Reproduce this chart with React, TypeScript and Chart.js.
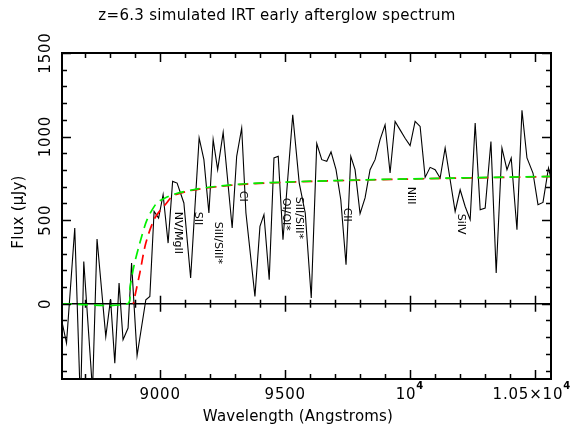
import React, { useEffect, useRef } from "react";
import { Chart, registerables } from "chart.js";

Chart.register(...registerables);

const TITLE = "z=6.3 simulated IRT early afterglow spectrum";
const X_LABEL = "Wavelength (Angstroms)";
const Y_LABEL = "Flux (μJy)";

const X_MIN = 8608;
const X_MAX = 10562;
const Y_MIN = -450;
const Y_MAX = 1500;

// Observed (simulated) spectrum
const waveObs = [
  8609, 8626, 8659, 8682, 8695, 8730, 8748, 8783, 8802, 8819, 8836, 8852, 8872, 8886, 8908,
  8943, 8959, 8976, 8994, 9012, 9032, 9050, 9068, 9095, 9122, 9156, 9175, 9195, 9212, 9230,
  9252, 9288, 9306, 9326, 9343, 9379, 9399, 9415, 9436, 9455, 9472, 9491, 9530, 9556, 9580,
  9604, 9626, 9646, 9666, 9683, 9703, 9722, 9743, 9762, 9779, 9799, 9819, 9839, 9859, 9879,
  9899, 9919, 9939, 9959, 9979, 9999, 10019, 10039, 10059, 10079, 10099, 10119, 10139, 10159,
  10179, 10199, 10219, 10239, 10259, 10279, 10299, 10322, 10343, 10366, 10386, 10403, 10426,
  10446, 10466, 10490, 10510, 10530, 10552, 10570,
];
const fluxObs = [
  -116, -235, 453, -620, 253, -520, 387, -196, 28, -355, 124, -215, -145, 243, -310,
  24, 44, 553, 513, 652, 363, 732, 722, 603, 154, 992, 862, 543, 982, 802,
  1025, 453, 882, 1051, 543, 44, 463, 533, 144, 872, 882, 383, 1131, 722, 543,
  35, 958, 862, 852, 908, 802, 622, 233, 882, 802, 539, 633, 802, 862, 982,
  1071, 782, 1091, 1040, 990, 946, 1091, 1061, 756, 816, 802, 752, 932, 742,
  552, 682, 582, 503, 1081, 563, 573, 971, 184, 932, 802, 872, 443,
  1157, 872, 782, 593, 606, 812, 700,
];

// Model curves (green and red dashed)
const waveGreen = [8608, 8870, 8880, 8895, 8919, 8948, 8986, 9006, 9050, 9132, 9226, 9346, 9506, 9626, 9959, 10562];
const fluxGreen = [0, 0, 100, 223, 363, 503, 603, 622, 652, 682, 702, 718, 728, 734, 746, 762];
const waveRed = [8893, 8899, 8919, 8943, 8979, 9026, 9052, 9132, 9226, 9346, 9506, 9626, 9959, 10562];
const fluxRed = [0, 44, 184, 363, 513, 603, 646, 680, 700, 716, 727, 733, 745, 761];

// Absorption line labels: name, wavelength, flux at top of label
const lineNames = ["NV/MgII", "SII", "SiII/SiII*", "CI", "OI/OI*", "SiII/SiII*", "CII", "NiII", "SiIV"];
const lineWaves = [9069, 9149, 9229, 9331, 9503, 9555, 9745, 10003, 10203];
const lineTopFlux = [551, 551, 491, 676, 634, 640, 575, 700, 539];

const xMajorTicks = [9000, 9500, 10000, 10500];
const xTickBase = ["9000", "9500", "10", "1.05×10"];
const xTickExp = ["", "", "4", "4"];
const yMajorTicks = [0, 500, 1000, 1500];
const yTickLabels = ["0", "500", "1000", "1500"];

const FONT = "'DejaVu Sans', sans-serif";

const framePlugin = {
  id: "pgframe",
  beforeDatasetsDraw(chart: any) {
    const { ctx, chartArea: a, scales } = chart;
    const x = scales.x;
    const y = scales.y;
    const y0 = y.getPixelForValue(0);
    ctx.save();
    ctx.strokeStyle = "#000";
    ctx.lineWidth = 1.5;
    ctx.beginPath();
    ctx.moveTo(a.left, y0);
    ctx.lineTo(a.right, y0);
    for (let v = Math.ceil(X_MIN / 100) * 100; v <= X_MAX; v += 100) {
      const px = Math.round(x.getPixelForValue(v)) + 0.5;
      const len = v % 500 === 0 ? 8 : 4;
      ctx.moveTo(px, y0 - len);
      ctx.lineTo(px, y0 + len);
    }
    ctx.stroke();
    ctx.restore();
  },
  afterDatasetsDraw(chart: any) {
    const { ctx, chartArea: a, scales } = chart;
    const x = scales.x;
    const y = scales.y;
    ctx.save();
    ctx.strokeStyle = "#000";
    ctx.lineWidth = 1.5;
    ctx.beginPath();
    for (let v = Math.ceil(X_MIN / 100) * 100; v <= X_MAX; v += 100) {
      const px = Math.round(x.getPixelForValue(v)) + 0.5;
      const len = v % 500 === 0 ? 9 : 5;
      ctx.moveTo(px, a.bottom);
      ctx.lineTo(px, a.bottom - len);
      ctx.moveTo(px, a.top);
      ctx.lineTo(px, a.top + len);
    }
    for (let v = Math.ceil(Y_MIN / 100) * 100; v <= Y_MAX; v += 100) {
      const py = Math.round(y.getPixelForValue(v)) + 0.5;
      const len = v % 500 === 0 ? 9 : 5;
      ctx.moveTo(a.left, py);
      ctx.lineTo(a.left + len, py);
      ctx.moveTo(a.right, py);
      ctx.lineTo(a.right - len, py);
    }
    ctx.stroke();
    ctx.lineWidth = 2;
    ctx.strokeRect(a.left, a.top, a.right - a.left, a.bottom - a.top);

    ctx.fillStyle = "#000";
    // title
    ctx.font = `15px ${FONT}`;
    ctx.letterSpacing = "0.3px";
    ctx.textAlign = "center";
    ctx.textBaseline = "alphabetic";
    ctx.fillText(TITLE, 277, 20);
    // x label
    ctx.letterSpacing = "0.2px";
    ctx.fillText(X_LABEL, 298, 421);
    // x tick labels
    ctx.letterSpacing = "0.8px";
    xMajorTicks.forEach((v, i) => {
      const cx = x.getPixelForValue(v);
      ctx.font = `15px ${FONT}`;
      const wBase = ctx.measureText(xTickBase[i]).width;
      ctx.font = `bold 10px ${FONT}`;
      const wExp = xTickExp[i] ? ctx.measureText(xTickExp[i]).width + 1 : 0;
      let left = cx - (wBase + wExp) / 2;
      if (left + wBase + wExp > 572) left = 572 - wBase - wExp;
      ctx.textAlign = "left";
      ctx.font = `15px ${FONT}`;
      ctx.fillText(xTickBase[i], left, 399);
      if (xTickExp[i]) {
        ctx.font = `bold 10px ${FONT}`;
        ctx.fillText(xTickExp[i], left + wBase, 389);
      }
    });
    // y tick labels (rotated)
    ctx.font = `15px ${FONT}`;
    ctx.textAlign = "center";
    ctx.textBaseline = "middle";
    yMajorTicks.forEach((v, i) => {
      const py = y.getPixelForValue(v);
      ctx.save();
      ctx.translate(46, py);
      ctx.rotate(-Math.PI / 2);
      ctx.fillText(yTickLabels[i], 0, 0);
      ctx.restore();
    });
    // y label
    ctx.letterSpacing = "0.3px";
    ctx.save();
    ctx.translate(19, 212);
    ctx.rotate(-Math.PI / 2);
    ctx.fillText(Y_LABEL, 0, 0);
    ctx.restore();
    // line labels
    ctx.letterSpacing = "0px";
    ctx.font = `11px ${FONT}`;
    ctx.textAlign = "left";
    ctx.textBaseline = "middle";
    lineNames.forEach((name, i) => {
      const px = x.getPixelForValue(lineWaves[i]);
      const py = y.getPixelForValue(lineTopFlux[i]);
      ctx.save();
      ctx.translate(px, py);
      ctx.rotate(Math.PI / 2);
      ctx.fillText(name, 0, 0);
      ctx.restore();
    });
    ctx.restore();
  },
};

export default function App() {
  const canvasRef = useRef<HTMLCanvasElement | null>(null);

  useEffect(() => {
    const canvas = canvasRef.current;
    if (!canvas) return;
    const chart = new Chart(canvas, {
      type: "line",
      data: {
        datasets: [
          {
            label: "model (green)",
            data: waveGreen.map((w, i) => ({ x: w, y: fluxGreen[i] })),
            borderColor: "#00f000",
            borderWidth: 1.7,
            borderDash: [10, 6],
            pointRadius: 0,
            fill: false,
            tension: 0.3,
          },
          {
            label: "model (red)",
            data: waveRed.map((w, i) => ({ x: w, y: fluxRed[i] })),
            borderColor: "#ff0000",
            borderWidth: 1.7,
            borderDash: [10, 6],
            borderDashOffset: 8,
            pointRadius: 0,
            fill: false,
            tension: 0.3,
          },
          {
            label: "spectrum",
            data: waveObs.map((w, i) => ({ x: w, y: fluxObs[i] })),
            borderColor: "#000000",
            borderWidth: 1.1,
            pointRadius: 0,
            fill: false,
            tension: 0,
          },
        ],
      },
      options: {
        responsive: false,
        animation: false,
        devicePixelRatio: 1,
        layout: { padding: { left: 62, top: 53, right: 25, bottom: 66 } },
        plugins: {
          legend: { display: false },
          tooltip: { enabled: false },
          title: { display: false },
        },
        scales: {
          x: { type: "linear", min: X_MIN, max: X_MAX, display: false },
          y: { type: "linear", min: Y_MIN, max: Y_MAX, display: false },
        },
      },
      plugins: [framePlugin],
    });
    return () => chart.destroy();
  }, []);

  return (
    <div style={{ position: "fixed", left: 0, top: 0, width: 576, height: 445, background: "#fff" }}>
      <canvas ref={canvasRef} width={576} height={445} style={{ width: 576, height: 445 }} />
    </div>
  );
}
